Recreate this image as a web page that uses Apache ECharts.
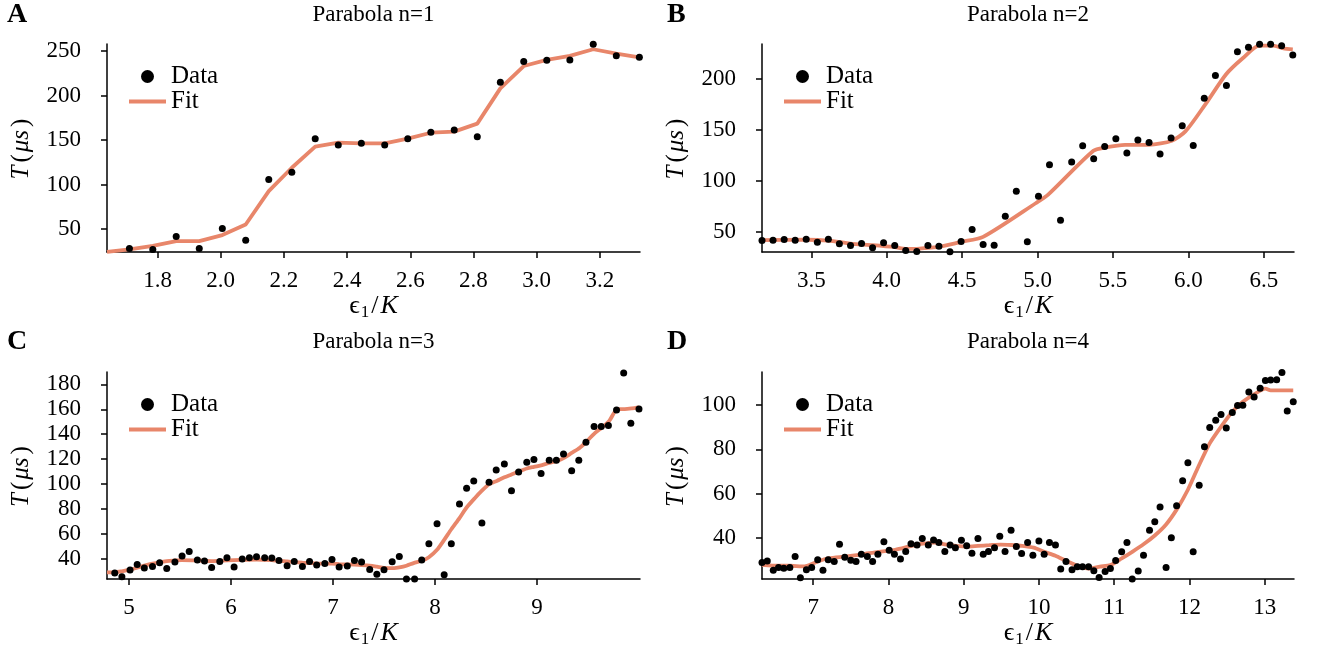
<!DOCTYPE html>
<html>
<head>
<meta charset="utf-8">
<script src="https://cdn.jsdelivr.net/npm/echarts@6/dist/echarts.min.js"></script>
<style>
  html, body { margin: 0; padding: 0; background: #fff; }
  #chart { width: 1322px; height: 654px; }
</style>
</head>
<body>
<div id="chart"></div>
<script>
// ---------- Panel A : Parabola n=1 ----------
const aX = [1.711,1.785,1.859,1.932,2.005,2.079,2.152,2.225,2.299,2.372,2.445,2.519,2.592,2.665,2.739,2.812,2.885,2.959,3.032,3.105,3.179,3.252,3.325];
const aY = [28.3,27.2,41.8,28.3,50.6,37.6,105.8,113.7,151.5,144.4,146.3,144.4,151.3,158.8,161.2,153.7,214.8,238.2,239.5,239.7,257.5,244.6,242.9];
const aFitX = [1.640,1.711,1.785,1.859,1.932,2.005,2.079,2.152,2.225,2.299,2.372,2.445,2.519,2.592,2.665,2.739,2.812,2.885,2.959,3.032,3.105,3.179,3.252,3.325];
const aFitY = [24.5,27.2,31.3,36.5,36.5,43.3,55.2,92.7,118.9,142.5,147.0,146.3,146.3,151.5,158.2,159.4,168.4,208.0,233.1,239.9,244.4,251.9,247.0,242.9];
const aXTicks = [1.8,2.0,2.2,2.4,2.6,2.8,3.0,3.2];
const aYTicks = [50,100,150,200,250];

// ---------- Panel B : Parabola n=2 ----------
const bX = [3.173,3.246,3.320,3.393,3.466,3.540,3.613,3.686,3.760,3.833,3.906,3.979,4.053,4.126,4.199,4.273,4.346,4.419,4.493,4.566,4.639,4.712,4.786,4.859,4.932,5.006,5.079,5.152,5.226,5.299,5.372,5.445,5.519,5.592,5.665,5.739,5.812,5.885,5.959,6.032,6.105,6.179,6.252,6.325,6.398,6.472,6.545,6.618,6.692];
const bY = [41.5,41.9,42.5,41.9,42.8,39.9,42.8,38.3,36.6,38.6,34.4,39.3,36.6,31.8,30.8,36.6,36.0,30.5,40.6,52.3,37.6,37.0,65.3,89.7,40.4,84.9,115.8,61.4,118.4,134.4,121.7,133.7,141.2,127.2,139.9,137.6,126.2,141.9,153.9,134.7,180.9,203.1,193.3,226.5,230.8,233.7,233.7,232.4,223.3];
const bFitX = [3.173,3.466,3.613,3.760,3.906,4.053,4.126,4.199,4.273,4.346,4.493,4.639,4.990,5.070,5.370,5.450,5.580,5.740,5.890,5.980,6.110,6.250,6.360,6.470,6.560,6.630,6.692];
const bFitY = [42.0,42.3,41.5,38.6,37.0,35.0,33.4,33.4,34.4,35.3,40.2,45.1,78.3,86.5,129.5,132.7,135.3,135.3,139.3,148.4,174.4,204.4,220.0,232.4,232.4,229.8,228.8];
const bXTicks = [3.5,4.0,4.5,5.0,5.5,6.0,6.5];
const bYTicks = [50,100,150,200];

// ---------- Panel C : Parabola n=3 ----------
const cX = [4.86,4.93,5.01,5.08,5.15,5.23,5.30,5.37,5.45,5.52,5.59,5.67,5.74,5.81,5.89,5.96,6.03,6.11,6.18,6.25,6.33,6.40,6.47,6.55,6.62,6.70,6.77,6.84,6.92,6.99,7.06,7.14,7.21,7.28,7.36,7.43,7.50,7.58,7.65,7.72,7.80,7.87,7.94,8.02,8.09,8.16,8.24,8.31,8.38,8.46,8.53,8.60,8.68,8.75,8.82,8.90,8.97,9.04,9.12,9.19,9.26,9.34,9.41,9.48,9.56,9.63,9.70,9.78,9.85,9.92,10.00];
const cY = [28.3,25.4,30.7,35.2,32.3,33.6,36.6,32.0,37.1,42.1,45.6,38.7,37.9,32.8,37.6,40.5,33.1,39.5,40.5,41.3,40.5,40.3,38.4,34.2,37.6,33.6,37.6,34.7,36.0,39.2,33.1,33.9,38.4,37.1,31.2,27.3,31.0,37.3,41.6,23.6,23.6,38.7,51.9,67.9,27.0,51.9,83.8,96.5,102.3,68.6,101.3,111.1,115.9,94.4,109.5,117.5,119.6,108.4,119.0,119.0,124.1,110.6,119.0,133.4,146.1,146.1,146.9,159.4,189.1,148.8,160.2];
const cFitX = [4.784,4.86,4.93,5.01,5.08,5.15,5.23,5.30,5.37,5.45,5.52,5.67,5.81,5.96,6.10,6.25,6.40,6.47,6.55,6.62,6.70,6.77,6.84,6.99,7.06,7.21,7.28,7.36,7.43,7.50,7.60,7.65,7.72,7.79,7.87,7.94,8.02,8.09,8.16,8.24,8.31,8.39,8.46,8.53,8.61,8.68,8.75,8.83,8.90,8.97,9.05,9.12,9.20,9.27,9.34,9.42,9.49,9.56,9.64,9.71,9.79,9.86,9.93,10.0];
const cFitY = [28.9,28.9,29.7,31.0,32.6,34.2,35.8,36.8,37.9,38.4,38.7,38.4,37.9,38.4,38.9,39.2,38.7,38.1,37.6,37.1,36.6,36.3,36.0,35.8,35.5,35.0,34.7,34.2,33.4,32.5,32.2,32.8,34.2,36.3,38.1,41.0,47.0,55.0,63.5,72.5,81.0,88.5,94.5,99.7,102.6,105.3,107.6,110.3,112.4,113.7,115.1,116.9,118.5,121.2,124.9,129.1,134.4,140.3,145.6,150.9,160.2,160.2,160.7,161.5];
const cXTicks = [5,6,7,8,9];
const cYTicks = [40,60,80,100,120,140,160,180];

// ---------- Panel D : Parabola n=4 ----------
const dX = [6.32,6.39,6.47,6.54,6.61,6.69,6.76,6.83,6.91,6.98,7.06,7.13,7.20,7.28,7.35,7.42,7.50,7.57,7.64,7.72,7.79,7.86,7.94,8.01,8.08,8.16,8.23,8.30,8.38,8.45,8.53,8.60,8.67,8.75,8.82,8.89,8.97,9.04,9.11,9.19,9.26,9.33,9.41,9.48,9.55,9.63,9.70,9.77,9.85,9.92,10.00,10.07,10.14,10.22,10.29,10.36,10.44,10.51,10.58,10.66,10.73,10.80,10.88,10.95,11.02,11.10,11.17,11.24,11.32,11.39,11.47,11.54,11.61,11.69,11.76,11.83,11.91,11.98,12.05,12.13,12.20,12.27,12.35,12.42,12.49,12.57,12.64,12.71,12.79,12.86,12.94,13.01,13.08,13.16,13.23,13.30,13.38];
const dY = [28.8,29.5,25.3,26.5,26.2,26.5,31.5,21.9,25.5,26.5,30.0,25.3,30.0,29.2,37.0,31.2,29.8,29.2,32.5,31.5,29.2,32.5,38.2,34.3,32.5,30.3,33.7,37.3,36.7,39.6,36.7,39.0,37.8,33.7,36.7,35.5,38.8,36.3,33.0,39.6,32.5,33.7,35.5,40.7,33.7,43.4,36.0,32.8,37.8,32.1,38.5,32.5,37.8,36.7,25.8,29.2,25.5,26.8,26.8,26.8,25.0,22.0,24.7,26.0,29.7,33.6,37.8,21.3,24.9,32.1,43.4,47.2,53.9,26.5,40.0,54.5,65.8,73.9,33.6,63.7,81.2,89.9,93.2,95.8,89.6,96.7,99.8,100.0,106.0,103.7,107.6,111.1,111.4,111.5,114.8,97.3,101.5];
const dFitX = [6.32,6.55,6.70,6.85,6.92,7.06,7.21,7.43,7.65,7.87,8.09,8.31,8.46,8.61,8.75,8.90,9.05,9.19,9.34,9.49,9.63,9.78,9.93,10.07,10.22,10.36,10.51,10.66,10.81,10.95,11.10,11.24,11.39,11.54,11.69,11.83,11.98,12.12,12.27,12.42,12.57,12.71,12.86,13.01,13.08,13.38];
const dFitY = [27.7,27.3,27.3,27.0,27.3,29.2,30.7,31.5,32.5,33.6,34.5,36.3,37.3,37.8,37.0,36.3,36.0,36.3,36.6,36.9,36.7,36.3,35.5,33.6,31.8,29.5,27.3,26.0,26.9,27.6,30.6,33.6,37.0,41.0,46.0,52.7,61.7,72.2,82.7,90.2,97.0,101.5,104.9,107.5,106.7,106.7];
const dXTicks = [7,8,9,10,11,12,13];
const dYTicks = [40,60,80,100];

const titles = ['Parabola n=1','Parabola n=2','Parabola n=3','Parabola n=4'];
const letters = ['A','B','C','D'];
const seriesNames = ['Data','Fit'];

// ---------- styling / layout ----------
const FONT = '"Liberation Serif", "Times New Roman", "DejaVu Serif", serif';
const FIT_COLOR = '#E8866A';
const grids = [
  {left: 107, top: 44, width: 533, height: 208},
  {left: 762, top: 44, width: 532, height: 208},
  {left: 107, top: 372, width: 533, height: 207},
  {left: 762, top: 372, width: 532, height: 207}
];
const panels = [
  {x: aX, y: aY, fx: aFitX, fy: aFitY, xt: aXTicks, yt: aYTicks, xmin: 1.640, xmax: 3.327, ymin: 24.3, ymax: 257.8, dec: 1, smooth: false},
  {x: bX, y: bY, fx: bFitX, fy: bFitY, xt: bXTicks, yt: bYTicks, xmin: 3.173, xmax: 6.700, ymin: 30.3, ymax: 234.0, dec: 1, smooth: 0.25},
  {x: cX, y: cY, fx: cFitX, fy: cFitY, xt: cXTicks, yt: cYTicks, xmin: 4.784, xmax: 10.01, ymin: 23.5, ymax: 190.0, dec: 0, smooth: 0.25},
  {x: dX, y: dY, fx: dFitX, fy: dFitY, xt: dXTicks, yt: dYTicks, xmin: 6.32, xmax: 13.39, ymin: 21.3, ymax: 115.0, dec: 0, smooth: 0.25}
];

const zip = (xs, ys) => xs.map((v, i) => [v, ys[i]]);
const axisLine = {show: true, onZero: false, lineStyle: {color: '#000', width: 1.5}};
const tickStyle = {color: '#000', width: 1.5};

const xAxes = [], yAxes = [], series = [], legends = [], graphics = [];
panels.forEach((p, i) => {
  xAxes.push({
    type: 'value', gridIndex: i, min: p.xmin, max: p.xmax,
    axisLine: axisLine,
    axisTick: {show: true, customValues: p.xt, length: 6, inside: false, lineStyle: tickStyle},
    axisLabel: {customValues: p.xt, formatter: v => Number(v).toFixed(p.dec), color: '#000', fontFamily: FONT, fontSize: 23, margin: 17},
    splitLine: {show: false},
    name: '{e|\u03f5}{s|1}{n|/}{k|K}',
    nameLocation: 'middle', nameGap: 37,
    nameTextStyle: {
      color: '#000', fontFamily: FONT, fontSize: 26,
      rich: {
        e: {fontFamily: FONT, fontSize: 26, lineHeight: 30, verticalAlign: 'middle', color: '#000'},
        s: {fontFamily: FONT, fontSize: 17, lineHeight: 17, verticalAlign: 'bottom', color: '#000', padding: [0, 2, 0, 1]},
        n: {fontFamily: FONT, fontSize: 26, lineHeight: 30, verticalAlign: 'middle', color: '#000', padding: [0, 2, 0, 0]},
        k: {fontFamily: FONT, fontSize: 26, lineHeight: 30, fontStyle: 'italic', verticalAlign: 'middle', color: '#000'}
      }
    }
  });
  yAxes.push({
    type: 'value', gridIndex: i, min: p.ymin, max: p.ymax,
    axisLine: axisLine,
    axisTick: {show: true, customValues: p.yt, length: 6, inside: false, lineStyle: tickStyle},
    axisLabel: {customValues: p.yt, formatter: v => String(Math.round(v)), color: '#000', fontFamily: FONT, fontSize: 23, margin: 26},
    splitLine: {show: false},
    name: '{i|T}{n|(}{i|\u03bcs}{n|)}',
    nameLocation: 'middle', nameGap: 73,
    nameTextStyle: {
      color: '#000', fontFamily: FONT, fontSize: 25,
      rich: {
        i: {fontFamily: FONT, fontSize: 25, fontStyle: 'italic', color: '#000', padding: [0, 3, 0, 0]},
        n: {fontFamily: FONT, fontSize: 25, color: '#000', padding: [0, 2, 0, 0]}
      }
    }
  });
  series.push({
    name: seriesNames[1], type: 'line', xAxisIndex: i, yAxisIndex: i,
    data: zip(p.fx, p.fy), showSymbol: false, symbol: 'none', smooth: p.smooth,
    color: FIT_COLOR,
    lineStyle: {color: FIT_COLOR, width: 3.8}, itemStyle: {color: FIT_COLOR},
    z: 2, animation: false, silent: true
  });
  series.push({
    name: seriesNames[0], type: 'scatter', xAxisIndex: i, yAxisIndex: i,
    data: zip(p.x, p.y), symbol: 'circle', symbolSize: 7,
    color: '#000', itemStyle: {color: '#000', opacity: 1},
    z: 3, animation: false, silent: true
  });
  const g = grids[i];
  legends.push({
    orient: 'vertical', left: g.left + 22, top: g.top + 20, padding: 0,
    itemWidth: 37, itemHeight: 13, itemGap: 0, selectedMode: false,
    textStyle: {fontFamily: FONT, fontSize: 25, color: '#000'},
    data: [
      {name: seriesNames[0], icon: 'circle', itemStyle: {color: '#000', opacity: 1}},
      {name: seriesNames[1], icon: 'path://M0,0L37,0L37,3.8L0,3.8Z', itemStyle: {color: FIT_COLOR, borderWidth: 0}}
    ]
  });
  const cx = g.left + g.width / 2;
  const ty = i < 2 ? 15 : 342;
  graphics.push({
    type: 'text', x: cx, y: ty,
    style: {text: titles[i], font: '23px ' + FONT, fill: '#000', align: 'center', verticalAlign: 'middle', textAlign: 'center', textVerticalAlign: 'middle'}
  });
  graphics.push({
    type: 'text', x: i % 2 === 0 ? 7 : 667, y: ty,
    style: {text: letters[i], font: 'bold 28px ' + FONT, fill: '#000', align: 'left', verticalAlign: 'middle', textAlign: 'left', textVerticalAlign: 'middle'}
  });
});

const chart = echarts.init(document.getElementById('chart'), null, {renderer: 'canvas'});
chart.setOption({
  backgroundColor: '#fff',
  animation: false,
  grid: grids.map(g => Object.assign({containLabel: false}, g)),
  xAxis: xAxes,
  yAxis: yAxes,
  legend: legends,
  series: series,
  graphic: graphics
});
</script>
</body>
</html>
